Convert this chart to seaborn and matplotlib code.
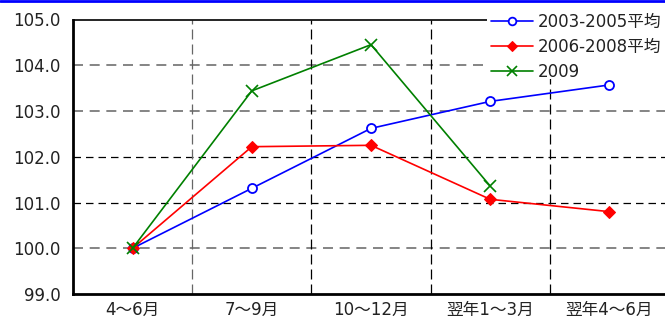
import numpy as np
import pandas as pd
import seaborn as sns
import matplotlib.pyplot as plt
from matplotlib.lines import Line2D
from matplotlib.patches import Rectangle

# data
quarters = ["4～6月", "7～9月", "10～12月", "翌年1～3月", "翌年4～6月"]
avg_0305 = [100.0, 101.31, 102.62, 103.21, 103.57]
avg_0608 = [100.0, 102.22, 102.25, 101.07, 100.80]
y2009 = [100.0, 103.44, 104.45, 101.36, np.nan]
series_names = ["2003-2005平均", "2006-2008平均", "2009"]

sns.set_style("white")
plt.rcParams['font.family'] = ['DejaVu Sans', 'Noto Sans CJK JP']

fig = plt.figure(figsize=(6.65, 3.2), dpi=100)
ax = fig.add_axes([73 / 665, 1 - 294 / 320, 596 / 665, (294 - 19.5) / 320])

pos = np.arange(len(quarters))
styles = [
    dict(color="#0000ff", marker="o", markerfacecolor="white", markeredgecolor="#0000ff", markersize=6.5, markeredgewidth=1.3),
    dict(color="#ff0000", marker="D", markerfacecolor="#ff0000", markeredgecolor="#ff0000", markersize=6),
    dict(color="#008000", marker="x", markeredgecolor="#008000", markersize=8, markeredgewidth=1.2),
]
for name, vals, st in zip(series_names, [avg_0305, avg_0608, y2009], styles):
    df = pd.DataFrame({"x": pos, "y": vals}).dropna()
    sns.lineplot(data=df, x="x", y="y", ax=ax, label=name, linewidth=1.2, zorder=3, **st)

ax.set_xlim(-0.5, len(quarters) - 0.5)
ax.set_ylim(99, 105)
yt = np.arange(99, 105.1, 1)
ax.set_yticks(yt)
ax.set_yticklabels([f"{v:.1f}" for v in yt])
ax.set_xticks(pos)
ax.set_xticklabels(quarters)
ax.set_xlabel("")
ax.set_ylabel("")
ax.tick_params(axis="y", length=0, labelsize=12, pad=9, colors="#222222")
ax.tick_params(axis="x", length=0, labelsize=12, pad=5, colors="#222222")

# dashed grid (some lines render grey, some black in the original)
for v in [100, 103, 104]:
    ax.axhline(v, color="#707070", linestyle=(0, (6, 4)), linewidth=1.2, zorder=1)
for v in [101, 102]:
    ax.axhline(v, color="black", linestyle=(0, (6, 4)), linewidth=0.9, zorder=1)
for i, v in enumerate(pos[:-1] + 0.5):
    c = "#666666" if i == 0 else "black"
    ax.axvline(v, color=c, linestyle=(0, (8, 4)), linewidth=0.9, zorder=1)

for s in ["left", "bottom"]:
    ax.spines[s].set_linewidth(2)
    ax.spines[s].set_color("black")
ax.spines["top"].set_visible(False)
ax.spines["right"].set_visible(False)
# top border stops where the legend sits
ax.axhline(105, xmin=0, xmax=(487 - 73) / 596, color="black", linewidth=1.2, clip_on=False)

# white box behind the legend hides the grid there
ax.add_patch(Rectangle((487 / 665, 1 - 79 / 320), 178 / 665, 79 / 320, transform=fig.transFigure,
                       facecolor="white", edgecolor="none", zorder=2, clip_on=False))

leg = ax.legend(loc="upper left", bbox_to_anchor=(487 / 665, 1 - 9 / 320), bbox_transform=fig.transFigure,
                frameon=False, fontsize=12, handlelength=2.5, labelspacing=0.42,
                borderaxespad=0, borderpad=0.25, handletextpad=0.3, markerscale=0.85)
for t in leg.get_texts():
    t.set_color("#222222")

fig.add_artist(Line2D([0, 1], [0.997, 0.997], transform=fig.transFigure, color="#0000ff", linewidth=2))

fig.savefig("out.png", dpi=100)
